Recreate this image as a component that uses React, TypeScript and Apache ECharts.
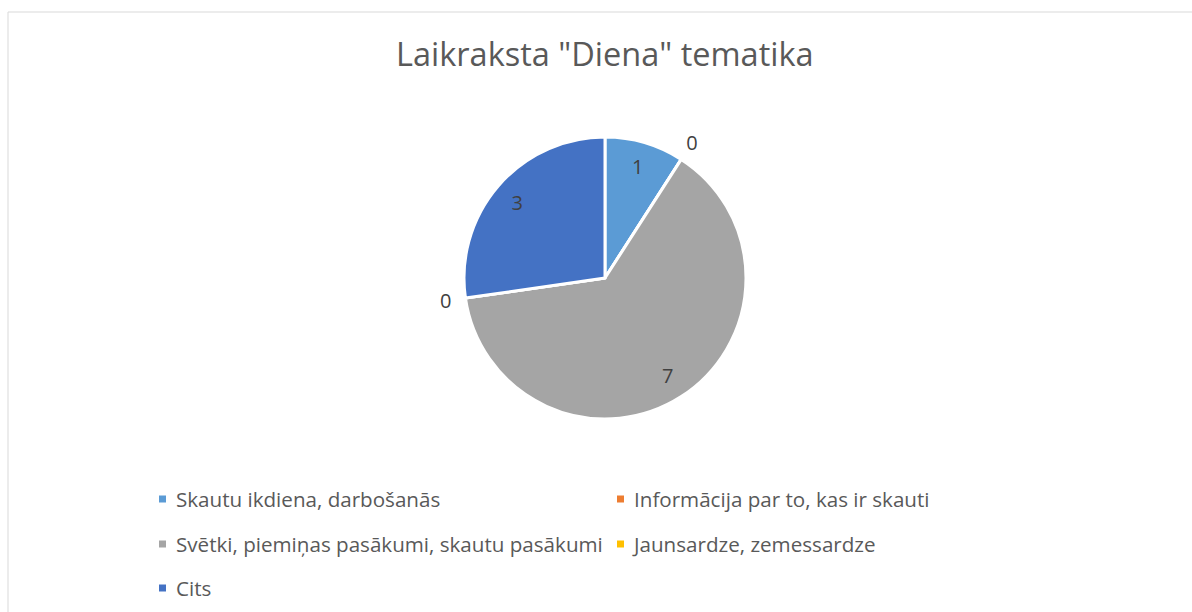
import React, { useEffect, useRef } from "react";
import * as echarts from "echarts";

const categories = [
  "Skautu ikdiena, darbošanās",
  "Informācija par to, kas ir skauti",
  "Svētki, piemiņas pasākumi, skautu pasākumi",
  "Jaunsardze, zemessardze",
  "Cits",
];
const values = [1, 0, 7, 0, 3];
const colors = ["#5B9BD5", "#ED7D31", "#A5A5A5", "#FFC000", "#4472C4"];
const titleText = 'Laikraksta "Diena" tematika';

const FONT = "'Open Sans', 'Noto Sans', sans-serif";

export default function App() {
  const ref = useRef<HTMLDivElement>(null);
  useEffect(() => {
    if (!ref.current) return;
    const chart = echarts.init(ref.current, undefined, { renderer: "svg" });
    const legendPos = [
      { left: 157, cy: 499 },
      { left: 615, cy: 499 },
      { left: 157, cy: 544 },
      { left: 615, cy: 544 },
      { left: 157, cy: 588 },
    ];
    const legends = categories.map((name, i) => ({
      data: [name],
      left: legendPos[i].left,
      top: legendPos[i].cy - 12,
      padding: 0,
      orient: "horizontal",
      icon: "rect",
      itemWidth: 9,
      itemHeight: 9,
      selectedMode: false,
      textStyle: {
        fontSize: 20.6,
        lineHeight: 24,
        color: "#595959",
        fontFamily: FONT,
        padding: [0, 0, 0, 4],
      },
    }));
    const labelStyle = {
      show: true,
      position: "inside",
      fontSize: 20,
      color: "#404040",
      fontFamily: FONT,
    };
    const pieBase = {
      type: "pie",
      center: [605, 278],
      startAngle: 90,
      clockwise: true,
      silent: true,
      avoidLabelOverlap: false,
      legendHoverLink: false,
      emphasis: { disabled: true },
      labelLine: { show: false },
    };
    chart.setOption({
      animation: false,
      color: colors,
      title: {
        text: titleText,
        left: 396,
        top: 37,
        padding: 0,
        textStyle: {
          fontSize: 32.5,
          fontWeight: "normal",
          color: "#595959",
          fontFamily: FONT,
        },
      },
      graphic: [
        {
          type: "rect",
          shape: { x: 8, y: 12, width: 1300, height: 700 },
          style: { fill: "none", stroke: "#D9D9D9", lineWidth: 1 },
          silent: true,
          z: -10,
        },
      ],
      legend: legends,
      series: [
        {
          ...pieBase,
          radius: [0, 141],
          itemStyle: { borderColor: "#ffffff", borderWidth: 3 },
          label: { show: false },
          data: categories.map((name, i) => ({
            name,
            value: values[i],
            itemStyle: { color: colors[i] },
          })),
        },
        {
          ...pieBase,
          radius: [85, 141],
          itemStyle: { color: "rgba(0,0,0,0)", borderWidth: 0 },
          label: {
            ...labelStyle,
            formatter: (p: any) => (p.value === 0 ? "" : String(p.value)),
          },
          data: categories.map((name, i) => ({ name: name + " ", value: values[i] })),
        },
        {
          ...pieBase,
          radius: [150, 166],
          itemStyle: { color: "rgba(0,0,0,0)", borderWidth: 0 },
          label: {
            ...labelStyle,
            formatter: (p: any) => (p.value === 0 ? "0" : ""),
          },
          data: categories.map((name, i) => ({ name: name + "  ", value: values[i] })),
        },
      ],
    });
    return () => chart.dispose();
  }, []);
  return (
    <div
      ref={ref}
      style={{ position: "fixed", left: 0, top: 0, width: 1192, height: 612, background: "#fff" }}
    />
  );
}
